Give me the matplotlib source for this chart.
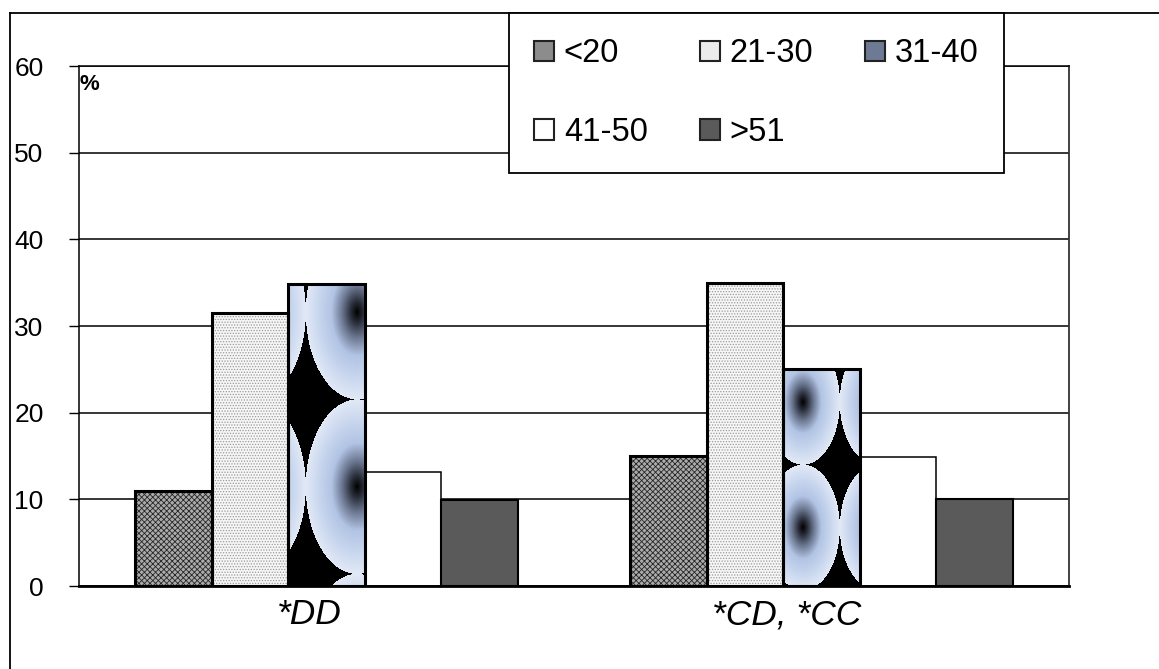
import numpy as np
import matplotlib
matplotlib.use('Agg')
import matplotlib.pyplot as plt
from matplotlib.lines import Line2D
from matplotlib.patches import Patch
from matplotlib.transforms import ScaledTranslation

plt.rcParams['font.family'] = ['Liberation Sans', 'DejaVu Sans']
plt.rcParams['hatch.linewidth'] = 0.6

groups = ['*DD', '*CD, *CC']
ages = ['<20', '21-30', '31-40', '41-50', '>51']
v_lt20 = [11.0, 15.0]
v_21_30 = [31.5, 35.0]
v_31_40 = [34.8, 25.0]
v_41_50 = [13.1, 14.9]
v_gt51 = [9.9, 10.0]
yticks = [0, 10, 20, 30, 40, 50, 60]

series = [v_lt20, v_21_30, v_31_40, v_41_50, v_gt51]
# fill styles: (face, hatch, hatch colour, edge lw, legend face)
styles = [
    ('#ababab', 'xxxxxx', '#262626', 2.2, '#8c8c8c'),
    ('#f6f6f6', '......', '#9a9a9a', 2.2, '#ececec'),
    ('#c8d4ec', None, None, 2.2, '#6e7a94'),
    ('white', None, None, 1.1, 'white'),
    ('#5a5a5a', None, None, 1.5, '#5a5a5a'),
]
# texture phase of the 31-40 bars (fraction of bar height)
tex_phase = [(0.229, 0.093), (0.092, 0.152)]


def texture(wpx, hpx, cx, cy):
    a = 0.17 * hpx
    b = 0.289 * hpx
    xx, yy = np.meshgrid(np.arange(wpx) + 0.5, np.arange(hpx) + 0.5)
    dx = np.mod(xx - cx * hpx + a, 2 * a) - a
    dy = np.mod(yy - cy * hpx + b, 2 * b) - b
    d = np.sqrt((dx / a) ** 2 + (dy / b) ** 2)
    stops = [0, 0.12, 0.3, 0.5, 0.75, 1.0]
    cols = np.array([(0, 0, 0), (40, 44, 55), (110, 122, 148),
                     (178, 196, 228), (200, 214, 238), (226, 233, 246)]) / 255
    img = np.zeros(d.shape + (3,))
    for k in range(3):
        img[..., k] = np.interp(d, stops, cols[:, k])
    img[d > 1] = 0
    return img


fig = plt.figure(figsize=(11.59, 6.69), dpi=100)
ax = fig.add_axes([79 / 1159, 1 - 586 / 669, (1069 - 79) / 1159, (586 - 66) / 669])
ax.set_xlim(-0.5, 1.5)
ax.set_ylim(0, 60)

x = np.arange(len(groups))
w = 0.1547
for i, (vals, st) in enumerate(zip(series, styles)):
    face, hatch, hcol, lw, _ = st
    xs = x + (i - 2) * w
    if hatch:
        ax.bar(xs, vals, w, color=face, edgecolor=hcol, hatch=hatch, lw=0, zorder=2)
    else:
        bars = ax.bar(xs, vals, w, color=face, lw=0, zorder=2)
    if i == 2:
        for rect, ph in zip(bars, tex_phase):
            x0, h = rect.get_x(), rect.get_height()
            p0 = ax.transData.transform((x0, 0))
            p1 = ax.transData.transform((x0 + w, h))
            wpx, hpx = int(round(p1[0] - p0[0])), int(round(p1[1] - p0[1]))
            ax.imshow(texture(wpx, hpx, *ph), extent=(x0, x0 + w, 0, h),
                      aspect='auto', origin='upper', interpolation='bilinear', zorder=2.5)
    ax.bar(xs, vals, w, facecolor='none', edgecolor='black', lw=lw, zorder=3)

ax.set_xlim(-0.5, 1.5)
ax.set_ylim(0, 60)
ax.set_yticks(yticks)
ax.yaxis.grid(True, color='black', lw=1.1)
ax.set_axisbelow(True)
ax.set_xticks(x)
ax.set_xticklabels(groups, style='italic', fontsize=25.5)
ax.tick_params(axis='x', length=0, pad=9)
ax.tick_params(axis='y', length=7.5, width=1, pad=18, labelsize=19)
for lbl, dx in zip(ax.get_xticklabels(), [-17, -35]):
    lbl.set_transform(lbl.get_transform() + ScaledTranslation(dx / 100, 0, fig.dpi_scale_trans))

for s in ['left', 'top']:
    ax.spines[s].set_linewidth(1.1)
ax.spines['bottom'].set_linewidth(2)
ax.spines['right'].set_linewidth(1.3)
ax.spines['right'].set_color('#333333')

ax.text(0.0, 0.985, '%', transform=ax.transAxes, va='top', ha='left',
        fontsize=16, fontweight='bold')

handles = [Patch(facecolor=st[4], edgecolor='#222222', lw=1.5) for st in styles]
order = [0, 3, 1, 4, 2]
leg = fig.legend([handles[k] for k in order], [ages[k] for k in order],
                 loc='upper left', bbox_to_anchor=(509 / 1159, 1 - 13 / 669),
                 ncol=3, fontsize=23.5, frameon=True, fancybox=False, framealpha=1,
                 edgecolor='black', borderpad=0.78, labelspacing=1.45,
                 handlelength=0.6, handleheight=0.6, handletextpad=0.3,
                 columnspacing=1.6, borderaxespad=0)
leg.get_frame().set_linewidth(1.3)

fig.add_artist(Line2D([10 / 1159, 10 / 1159], [0, 1 - 13 / 669], color='black', lw=1.3,
                      transform=fig.transFigure))
fig.add_artist(Line2D([10 / 1159, 1], [1 - 13 / 669, 1 - 13 / 669], color='black', lw=1.3,
                      transform=fig.transFigure))

fig.savefig('out.png', dpi=100)
